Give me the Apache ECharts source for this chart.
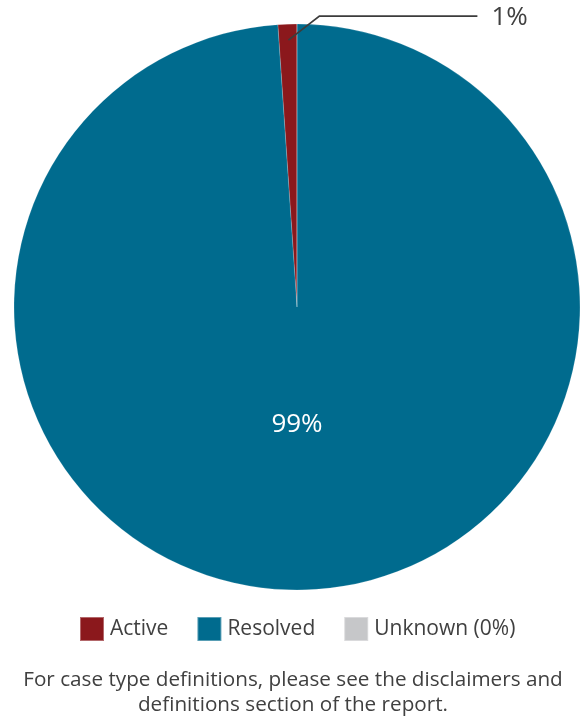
<!DOCTYPE html>
<html>
<head>
<meta charset="utf-8">
<script src="https://cdn.jsdelivr.net/npm/echarts@6/dist/echarts.min.js"></script>
<style>
html,body{margin:0;padding:0;background:#fff;}
#chart{width:586px;height:722px;}
</style>
</head>
<body>
<div id="chart"></div>
<script>
const categories = ['Active', 'Resolved', 'Unknown (0%)'];
const values = [1.08, 98.92, 0];
const colors = ['#8B181C', '#006B8E', '#C6C7C9'];
const footnote = 'For case type definitions, please see the disclaimers and\ndefinitions section of the report.';

const chart = echarts.init(document.getElementById('chart'), null, {renderer: 'canvas'});
const textColor = '#404040';
const fontFamily = '"Open Sans", Lato, sans-serif';
const pieCenter = [297, 307];
const pieRadius = [0, 283];
const pctFormatter = p => Math.round(p.percent) + '%';

// Main pie: sectors and the inside label of the big slice.
const mainData = categories.map((name, i) => {
  const item = {name: name, value: values[i], itemStyle: {color: colors[i]}};
  if (name === 'Resolved') {
    item.label = {show: true, position: 'inside', color: '#ffffff', fontSize: 26, fontFamily: fontFamily, formatter: pctFormatter};
  }
  return item;
});

// Overlay pie (transparent, same values): carries the outside label of the small slice
// so its leader line is painted above the sectors.
const overlayData = categories.map((name, i) => {
  const item = {name: name, value: values[i]};
  if (name !== 'Active') {
    item.label = {show: false};
    item.labelLine = {show: false};
  }
  return item;
});

chart.setOption({
  animation: false,
  title: {
    text: footnote,
    left: 'center',
    top: 663,
    textStyle: {color: textColor, fontSize: 20.7, fontWeight: 'normal', fontFamily: fontFamily, lineHeight: 24.5}
  },
  legend: {
    data: categories.map((name, i) => ({name: name, itemStyle: {color: colors[i]}})),
    left: 74,
    top: 611,
    itemWidth: 24,
    itemHeight: 24,
    itemGap: 28,
    icon: 'rect',
    textStyle: {color: textColor, fontSize: 21, fontFamily: fontFamily, padding: [0, 0, 0, 1]},
    selectedMode: false
  },
  series: [{
    type: 'pie',
    z: 2,
    center: pieCenter,
    radius: pieRadius,
    startAngle: 90,
    clockwise: false,
    data: mainData,
    itemStyle: {borderColor: 'rgba(255,255,255,0.35)', borderWidth: 0.5},
    label: {show: false},
    labelLine: {show: false},
    labelLayout: function (params) {
      const r = params.rect;
      return {
        x: r.x + r.width / 2,
        y: r.y + r.height * 0.708,
        align: 'center',
        verticalAlign: 'middle'
      };
    },
    emphasis: {disabled: true}
  }, {
    type: 'pie',
    z: 3,
    silent: true,
    center: pieCenter,
    radius: pieRadius,
    startAngle: 90,
    clockwise: false,
    data: overlayData,
    itemStyle: {color: 'rgba(0,0,0,0)', borderWidth: 0},
    label: {
      show: true,
      position: 'outside',
      color: textColor,
      fontSize: 26,
      fontFamily: fontFamily,
      formatter: pctFormatter
    },
    labelLine: {
      show: true,
      length: 10,
      length2: 40,
      lineStyle: {color: '#3C3C3C', width: 1.8}
    },
    labelLayout: function (params) {
      if (!params.labelLinePoints) return {};
      const p0 = params.labelLinePoints[0];
      const start = [p0[0] + 1, p0[1] + 16];
      const bend = [p0[0] + 32, p0[1] - 8];
      const end = [p0[0] + 190, p0[1] - 8];
      return {
        x: end[0] + 14,
        y: end[1] + 1,
        align: 'left',
        verticalAlign: 'middle',
        labelLinePoints: [start, bend, end]
      };
    },
    emphasis: {disabled: true}
  }]
});
</script>
</body>
</html>
